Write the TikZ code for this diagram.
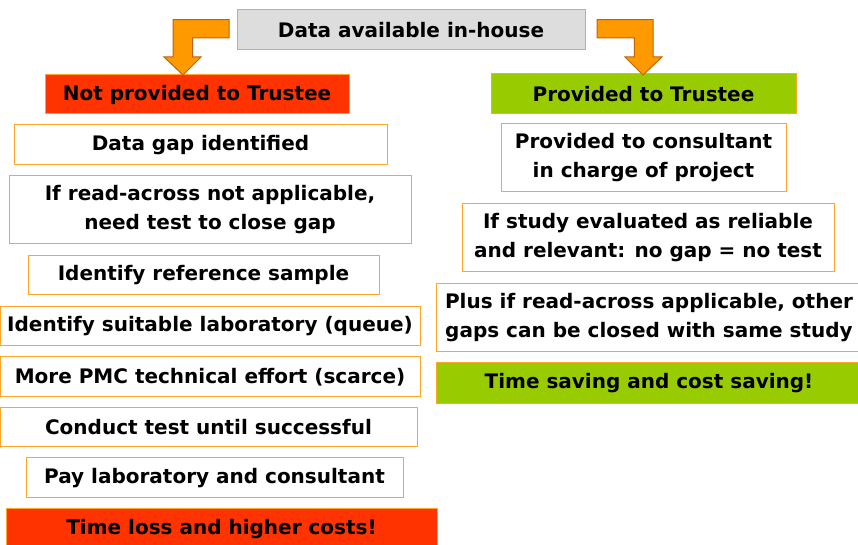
\documentclass[tikz,border=0pt]{standalone}
\usepackage{fontspec}
\setmainfont{DejaVu Sans}
\usepackage{tikz}

\begin{document}
\begin{tikzpicture}[x=0.75pt,y=0.75pt,yscale=-1,xscale=1,
    box/.style={draw={rgb, 255:red, 255; green, 165; blue, 40 }, line width=0.75, fill=white, inner sep=0pt, align=center, font=\fontsize{15}{21.75}\selectfont\bfseries},
    boxsize/.style 2 args={minimum width=#1*0.75pt, minimum height=#2*0.75pt},
    lossbox/.style={box, fill={rgb, 255:red, 255; green, 51; blue, 0 }},
    gainbox/.style={box, fill={rgb, 255:red, 153; green, 204; blue, 0 }},
    housebox/.style={box, fill={rgb, 255:red, 221; green, 221; blue, 221 }},
    bentarrow/.style={fill={rgb, 255:red, 255; green, 153; blue, 0 }, draw={rgb, 255:red, 190; green, 100; blue, 0 }, line width=0.75}]
\useasboundingbox (0,0) rectangle (858,545);

% Text Node
\node [housebox, boxsize={348}{40}] (house) at (411,30) {Data available in-house};

% Text Node
\node [lossbox, boxsize={304}{39}] (notprov) at (197,94.5) {Not provided to Trustee};
% Text Node
\node [gainbox, boxsize={305}{40}] (prov) at (643.5,94) {Provided to Trustee};

%Bent Arrows
\coordinate (ltip) at (183,75);
\coordinate (rtip) at (643,75);
\draw [bentarrow] (ltip) -- ++(-19,-18) -- ++(9,0) -- ++(0,-37.4) -- ++(56,0) -- ++(0,18.4) -- ++(-36.5,0) -- ++(0,19) -- ++(8.5,0) -- cycle;
\draw [bentarrow] (rtip) -- ++(19,-18) -- ++(-9,0) -- ++(0,-37.4) -- ++(-56,0) -- ++(0,18.4) -- ++(37.4,0) -- ++(0,19) -- ++(-9.4,0) -- cycle;

% Text Node
\node [box, boxsize={373}{40}] (gap) at (200.5,145) {Data gap identified};
% Text Node
\node [box, boxsize={402}{68}] (readacross) at (210,210) {If read-across not applicable,\\need test to close gap};
% Text Node
\node [box, boxsize={351}{39}] (refsample) at (203.5,275.5) {Identify reference sample};
% Text Node
\node [box, boxsize={420}{39}] (lab) at (210,326.5) {Identify suitable laboratory (queue)};
% Text Node
\node [box, boxsize={420}{40}] (effort) at (210,377) {More PMC technical effort (scarce)};
% Text Node
\node [box, boxsize={417}{39}] (conduct) at (208.5,427.5) {Conduct test until successful};
% Text Node
\node [box, boxsize={377}{40}] (pay) at (214.5,478) {Pay laboratory and consultant};
% Text Node
\node [lossbox, boxsize={431}{40}] (timeloss) at (221.5,529) {Time loss and higher costs!};

% Text Node
\node [box, boxsize={285}{68}] (consultant) at (643.5,158) {Provided to consultant\\in charge of project};
% Text Node
\node [box, boxsize={372}{68}] (study) at (648,238) {If study evaluated as reliable\\and relevant: no gap = no test};
% Text Node
\node [box, boxsize={426}{68}] (plus) at (649,318) {Plus if read-across applicable, other\\gaps can be closed with same study};
% Text Node
\node [gainbox, boxsize={426}{41}] (timesave) at (649,383.5) {Time saving and cost saving!};

\end{tikzpicture}
\end{document}
